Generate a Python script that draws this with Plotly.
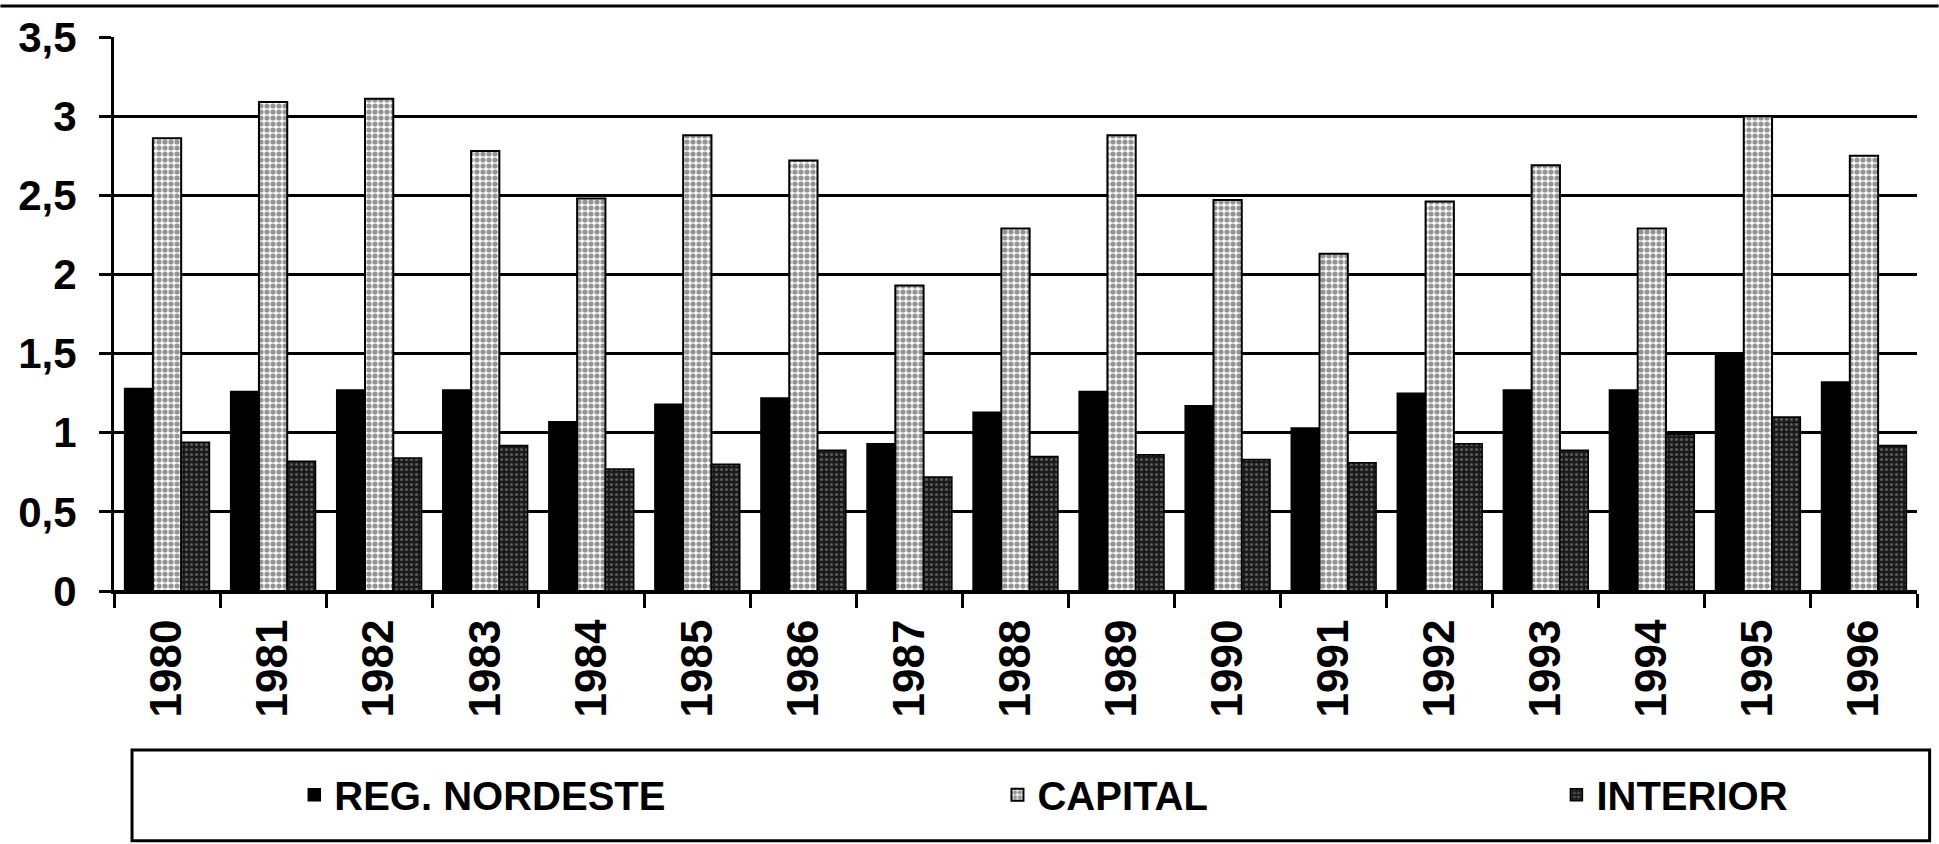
import plotly.graph_objects as go

years = ["1980", "1981", "1982", "1983", "1984", "1985", "1986", "1987", "1988",
         "1989", "1990", "1991", "1992", "1993", "1994", "1995", "1996"]
reg_nordeste = [1.28, 1.26, 1.27, 1.27, 1.07, 1.18, 1.22, 0.93, 1.13, 1.26, 1.17,
                1.03, 1.25, 1.27, 1.27, 1.50, 1.32]
capital = [2.86, 3.09, 3.11, 2.78, 2.48, 2.88, 2.72, 1.93, 2.29, 2.88, 2.47,
           2.13, 2.46, 2.69, 2.29, 3.00, 2.75]
interior = [0.94, 0.82, 0.84, 0.92, 0.77, 0.80, 0.89, 0.72, 0.85, 0.86, 0.83,
            0.81, 0.93, 0.89, 0.99, 1.10, 0.92]

FONT = "Liberation Sans, Arial, sans-serif"

fig = go.Figure()
fig.add_trace(go.Bar(
    x=years, y=reg_nordeste, name="REG. NORDESTE", legend="legend", showlegend=True,
    marker=dict(color="black", line=dict(color="black", width=1.5)),
))
fig.add_trace(go.Bar(
    x=years, y=capital, name="CAPITAL", legend="legend2", showlegend=True,
    marker=dict(color="white", line=dict(color="black", width=2),
                pattern=dict(shape=".", fgcolor="#2a2a2a", bgcolor="white",
                             size=6, solidity=0.6)),
))
fig.add_trace(go.Bar(
    x=years, y=interior, name="INTERIOR", legend="legend3", showlegend=True,
    marker=dict(color="#222222", line=dict(color="black", width=1.5),
                pattern=dict(shape=".", fgcolor="#9a9a9a", bgcolor="#1a1a1a",
                             size=5, solidity=0.3)),
))

leg_common = dict(orientation="h", yanchor="middle", y=-0.368, xanchor="left",
                  bgcolor="rgba(0,0,0,0)", borderwidth=0, visible=True,
                  font=dict(family=FONT, size=40, color="black", weight="bold"),
                  itemwidth=30)

fig.update_layout(
    width=1939, height=844,
    margin=dict(l=114, r=22, t=37, b=253),
    paper_bgcolor="white", plot_bgcolor="white",
    separators=",.",
    showlegend=True,
    barmode="group", bargap=0.2, bargroupgap=0.0,
    font=dict(family=FONT, size=36, color="black"),
    legend=dict(leg_common, x=0.10),
    legend2=dict(leg_common, x=0.49),
    legend3=dict(leg_common, x=0.80),
    xaxis=dict(
        type="category", tickangle=-90, tickson="boundaries",
        ticks="outside", ticklen=14, tickwidth=2.5, tickcolor="black",
        ticklabelstandoff=8,
        showline=True, linecolor="black", linewidth=3,
        showgrid=False,
        tickfont=dict(family=FONT, size=44, color="black", weight="bold"),
    ),
    yaxis=dict(
        range=[0, 3.5], dtick=0.5, tick0=0,
        ticks="outside", ticklen=12, tickwidth=3, tickcolor="black",
        ticklabelstandoff=14,
        showline=True, linecolor="black", linewidth=3,
        showgrid=True, gridcolor="black", gridwidth=3,
        zeroline=True, zerolinecolor="black", zerolinewidth=3,
        tickfont=dict(family=FONT, size=42, color="black", weight="bold"),
    ),
    shapes=[
        dict(type="rect", xref="paper", yref="paper",
             x0=0.01, x1=1.007, y0=-0.451, y1=-0.287,
             line=dict(color="black", width=3), fillcolor="rgba(0,0,0,0)"),
        dict(type="line", xref="paper", yref="paper",
             x0=-0.063, x1=1.012, y0=1.056, y1=1.056,
             line=dict(color="black", width=3)),
    ],
)

fig.write_html("out.html")
